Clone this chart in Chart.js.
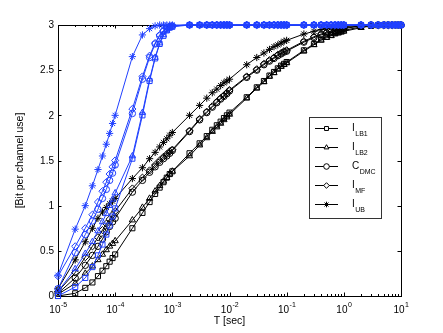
<!DOCTYPE html>
<html>
<head>
<meta charset="utf-8">
<script src="https://cdn.jsdelivr.net/npm/chart.js@4.4.0/dist/chart.umd.min.js"></script>
<style>
  html, body { margin: 0; padding: 0; background: #fff; }
  #wrap { width: 443px; height: 333px; }
</style>
</head>
<body>
<div id="wrap"><canvas id="chart" width="443" height="333"></canvas></div>
<script>
// T [sec] sample points (1..9 per decade)
const tSec = [
  1e-5, 2e-5, 3e-5, 4e-5, 5e-5, 6e-5, 7e-5, 8e-5, 9e-5,
  1e-4, 2e-4, 3e-4, 4e-4, 5e-4, 6e-4, 7e-4, 8e-4, 9e-4,
  1e-3, 2e-3, 3e-3, 4e-3, 5e-3, 6e-3, 7e-3, 8e-3, 9e-3,
  1e-2, 2e-2, 3e-2, 4e-2, 5e-2, 6e-2, 7e-2, 8e-2, 9e-2,
  0.1, 0.2, 0.3, 0.4, 0.5, 0.6, 0.7, 0.8, 0.9,
  1, 2, 3, 4, 5, 6, 7, 8, 9,
  10
];

// curvas azuis (grupo rapido)
const blueLB1 = [
  0.00, 0.10, 0.20, 0.32, 0.45, 0.57, 0.68, 0.78, 0.88,
  0.97, 1.52, 2.00, 2.38, 2.63, 2.79, 2.88, 2.94, 2.97,
  2.98, 3, 3, 3, 3, 3, 3, 3, 3,
  3, 3, 3, 3, 3, 3, 3, 3, 3,
  3, 3, 3, 3, 3, 3, 3, 3, 3,
  3, 3, 3, 3, 3, 3, 3, 3, 3,
  3
];
const blueLB2 = [
  0.05, 0.30, 0.47, 0.60, 0.72, 0.82, 0.91, 1.00, 1.07,
  1.14, 1.55, 2.03, 2.40, 2.64, 2.80, 2.89, 2.94, 2.97,
  2.99, 3, 3, 3, 3, 3, 3, 3, 3,
  3, 3, 3, 3, 3, 3, 3, 3, 3,
  3, 3, 3, 3, 3, 3, 3, 3, 3,
  3, 3, 3, 3, 3, 3, 3, 3, 3,
  3
];
const blueDMC = [
  0.08, 0.48, 0.68, 0.83, 0.96, 1.08, 1.18, 1.28, 1.36,
  1.45, 2.02, 2.40, 2.64, 2.79, 2.88, 2.93, 2.96, 2.98,
  2.99, 3, 3, 3, 3, 3, 3, 3, 3,
  3, 3, 3, 3, 3, 3, 3, 3, 3,
  3, 3, 3, 3, 3, 3, 3, 3, 3,
  3, 3, 3, 3, 3, 3, 3, 3, 3,
  3
];
const blueMF = [
  0.22, 0.55, 0.75, 0.90, 1.04, 1.16, 1.26, 1.35, 1.43,
  1.50, 2.07, 2.43, 2.66, 2.80, 2.89, 2.94, 2.97, 2.98,
  2.99, 3, 3, 3, 3, 3, 3, 3, 3,
  3, 3, 3, 3, 3, 3, 3, 3, 3,
  3, 3, 3, 3, 3, 3, 3, 3, 3,
  3, 3, 3, 3, 3, 3, 3, 3, 3,
  3
];
const blueUB = [
  0.23, 0.74, 1.00, 1.22, 1.40, 1.55, 1.68, 1.80, 1.91,
  2.00, 2.65, 2.89, 2.96, 2.99, 3, 3, 3, 3,
  3, 3, 3, 3, 3, 3, 3, 3, 3,
  3, 3, 3, 3, 3, 3, 3, 3, 3,
  3, 3, 3, 3, 3, 3, 3, 3, 3,
  3, 3, 3, 3, 3, 3, 3, 3, 3,
  3
];

// curvas pretas (grupo lento)
const blackLB1 = [
  0.00, 0.03, 0.09, 0.15, 0.22, 0.28, 0.33, 0.38, 0.42,
  0.46, 0.75, 0.92, 1.04, 1.13, 1.20, 1.26, 1.31, 1.35,
  1.38, 1.58, 1.69, 1.77, 1.84, 1.89, 1.93, 1.97, 2.00,
  2.03, 2.20, 2.31, 2.38, 2.44, 2.48, 2.52, 2.55, 2.57,
  2.59, 2.72, 2.79, 2.84, 2.87, 2.89, 2.91, 2.92, 2.93,
  2.94, 2.98, 2.99, 3, 3, 3, 3, 3, 3,
  3
];
const blackLB2 = [
  0.02, 0.14, 0.25, 0.33, 0.40, 0.46, 0.51, 0.55, 0.58,
  0.61, 0.84, 0.98, 1.08, 1.16, 1.22, 1.27, 1.31, 1.35,
  1.38, 1.55, 1.67, 1.75, 1.82, 1.87, 1.91, 1.95, 1.98,
  2.01, 2.19, 2.30, 2.37, 2.43, 2.47, 2.51, 2.54, 2.56,
  2.58, 2.71, 2.78, 2.83, 2.86, 2.88, 2.90, 2.91, 2.92,
  2.93, 2.97, 2.99, 2.99, 3, 3, 3, 3, 3,
  3
];
const blackDMC = [
  0.03, 0.20, 0.34, 0.45, 0.55, 0.63, 0.71, 0.77, 0.82,
  0.86, 1.15, 1.28, 1.37, 1.43, 1.48, 1.52, 1.55, 1.58,
  1.61, 1.82, 1.95, 2.03, 2.09, 2.14, 2.18, 2.21, 2.24,
  2.27, 2.42, 2.50, 2.56, 2.60, 2.63, 2.66, 2.68, 2.70,
  2.71, 2.81, 2.86, 2.89, 2.91, 2.92, 2.93, 2.94, 2.95,
  2.96, 2.99, 3, 3, 3, 3, 3, 3, 3,
  3
];
const blackMF = [
  0.05, 0.26, 0.43, 0.55, 0.65, 0.73, 0.80, 0.85, 0.90,
  0.94, 1.19, 1.31, 1.39, 1.45, 1.50, 1.54, 1.57, 1.60,
  1.62, 1.83, 1.96, 2.04, 2.10, 2.15, 2.19, 2.22, 2.25,
  2.28, 2.43, 2.51, 2.57, 2.61, 2.64, 2.67, 2.69, 2.71,
  2.72, 2.82, 2.87, 2.90, 2.92, 2.93, 2.94, 2.95, 2.96,
  2.97, 2.99, 3, 3, 3, 3, 3, 3, 3,
  3
];
const blackUB = [
  0.08, 0.40, 0.60, 0.75, 0.86, 0.93, 0.98, 1.02, 1.05,
  1.08, 1.30, 1.42, 1.52, 1.59, 1.65, 1.70, 1.74, 1.78,
  1.81, 2.00, 2.11, 2.19, 2.25, 2.29, 2.33, 2.36, 2.38,
  2.40, 2.56, 2.64, 2.69, 2.73, 2.76, 2.78, 2.80, 2.82,
  2.83, 2.90, 2.93, 2.95, 2.96, 2.97, 2.97, 2.98, 2.98,
  2.98, 3, 3, 3, 3, 3, 3, 3, 3,
  3
];

const yTicks = [0, 0.5, 1, 1.5, 2, 2.5, 3];
const yTickLabels = ['0', '0.5', '1', '1.5', '2', '2.5', '3'];
const xExponents = [-5, -4, -3, -2, -1, 0, 1];
const legendNames = [['I', 'LB1'], ['I', 'LB2'], ['C', 'DMC'], ['I', 'MF'], ['I', 'UB']];
const markers = ['rect', 'triangle', 'circle', 'rectRot', 'star'];

const BLUE = '#2040ff';
const FONT = '"Liberation Sans", Arial, sans-serif';

const toPts = arr => tSec.map((t, i) => ({ x: t, y: arr[i] }));

function makeSet(label, arr, color, style) {
  return {
    label,
    data: toPts(arr),
    borderColor: color,
    borderWidth: 1,
    backgroundColor: 'rgba(0,0,0,0)',
    pointStyle: style,
    pointRadius: style === 'circle' ? 3.2 : 3.6,
    pointBorderColor: color,
    pointBackgroundColor: 'rgba(0,0,0,0)',
    pointBorderWidth: 1,
    fill: false,
    tension: 0,
    clip: false
  };
}

const blueSets = [blueLB1, blueLB2, blueDMC, blueMF, blueUB];
const blackSets = [blackLB1, blackLB2, blackDMC, blackMF, blackUB];
const datasets = [];
blueSets.forEach((arr, i) => datasets.push(makeSet('blue ' + legendNames[i].join(''), arr, BLUE, markers[i])));
blackSets.forEach((arr, i) => datasets.push(makeSet(legendNames[i].join(''), arr, '#000', markers[i])));

// Moldura, ticks, rotulos e legenda no estilo Matlab
const frame = {
  id: 'frame',
  beforeDatasetsDraw(chart) {
    const { ctx, chartArea: a, scales } = chart;
    const xs = scales.x, ys = scales.y;
    ctx.save();
    ctx.strokeStyle = '#000';
    ctx.lineWidth = 1;
    ctx.beginPath();
    // x ticks (inward, bottom and top)
    xExponents.forEach(k => {
      const px = Math.round(xs.getPixelForValue(Math.pow(10, k))) + 0.5;
      ctx.moveTo(px, a.bottom); ctx.lineTo(px, a.bottom - 3.5);
      ctx.moveTo(px, a.top); ctx.lineTo(px, a.top + 3.5);
      if (k < 1) {
        for (let m = 2; m <= 9; m++) {
          const mx = Math.round(xs.getPixelForValue(m * Math.pow(10, k))) + 0.5;
          ctx.moveTo(mx, a.bottom); ctx.lineTo(mx, a.bottom - 2);
          ctx.moveTo(mx, a.top); ctx.lineTo(mx, a.top + 2);
        }
      }
    });
    // y ticks
    yTicks.forEach(v => {
      const py = Math.round(ys.getPixelForValue(v)) + 0.5;
      ctx.moveTo(a.left, py); ctx.lineTo(a.left + 3.5, py);
      ctx.moveTo(a.right, py); ctx.lineTo(a.right - 3.5, py);
    });
    ctx.stroke();
    ctx.strokeRect(Math.round(a.left) + 0.5, Math.round(a.top) + 0.5,
      Math.round(a.right - a.left), Math.round(a.bottom - a.top));

    // y tick labels
    ctx.fillStyle = '#000';
    ctx.font = '10px ' + FONT;
    ctx.textAlign = 'right';
    ctx.textBaseline = 'middle';
    yTicks.forEach((v, i) => {
      ctx.fillText(yTickLabels[i], a.left - 4, ys.getPixelForValue(v) + 0.5);
    });

    // x tick labels: 10^k
    ctx.textBaseline = 'alphabetic';
    ctx.textAlign = 'left';
    xExponents.forEach(k => {
      const px = xs.getPixelForValue(Math.pow(10, k));
      ctx.font = '10px ' + FONT;
      const wBase = ctx.measureText('10').width;
      ctx.font = '7px ' + FONT;
      const sup = (k < 0 ? '-' : '') + Math.abs(k);
      const wSup = ctx.measureText(sup).width;
      const x0 = px - (wBase + wSup) / 2;
      ctx.font = '10px ' + FONT;
      ctx.fillText('10', x0, 313);
      ctx.font = '7px ' + FONT;
      ctx.fillText(sup, x0 + wBase + 0.5, 307);
    });

    // axis titles
    ctx.font = '10.5px ' + FONT;
    ctx.textAlign = 'center';
    ctx.textBaseline = 'middle';
    ctx.fillText('T [sec]', (a.left + a.right) / 2, 321);
    ctx.save();
    ctx.translate(20, (a.top + a.bottom) / 2);
    ctx.rotate(-Math.PI / 2);
    ctx.fillText('[Bit per channel use]', 0, 0);
    ctx.restore();
    ctx.restore();
  },
  afterDraw(chart) {
    const { ctx } = chart;
    ctx.save();
    const bx = 309.5, by = 117.5, bw = 72, bh = 101;
    ctx.fillStyle = '#fff';
    ctx.fillRect(bx, by, bw, bh);
    ctx.strokeStyle = '#333';
    ctx.lineWidth = 1;
    ctx.strokeRect(bx, by, bw, bh);
    const rows = [128.5, 147.5, 166.5, 185.5, 204.5];
    legendNames.forEach((nm, i) => {
      const y = rows[i];
      ctx.strokeStyle = '#000';
      ctx.lineWidth = 1;
      ctx.beginPath();
      ctx.moveTo(315, y); ctx.lineTo(338, y);
      ctx.stroke();
      ctx.fillStyle = '#fff';
      Chart.helpers.drawPoint(ctx, {
        pointStyle: markers[i], radius: 2.8, borderWidth: 1, rotation: 0
      }, 326.5, y);
      ctx.fillStyle = '#000';
      ctx.textAlign = 'left';
      ctx.textBaseline = 'alphabetic';
      ctx.font = '10px ' + FONT;
      ctx.fillText(nm[0], 352, y + 2.5);
      const w = ctx.measureText(nm[0]).width;
      ctx.font = '7px ' + FONT;
      ctx.fillText(nm[1], 352 + w + 0.5, y + 7);
    });
    ctx.restore();
  }
};

new Chart(document.getElementById('chart').getContext('2d'), {
  type: 'line',
  data: { datasets },
  options: {
    responsive: false,
    animation: false,
    devicePixelRatio: 1,
    parsing: true,
    layout: { padding: { left: 58, right: 42, top: 25, bottom: 37 } },
    scales: {
      x: { type: 'logarithmic', min: 1e-5, max: 10, display: false },
      y: { type: 'linear', min: 0, max: 3, display: false }
    },
    plugins: {
      legend: { display: false },
      tooltip: { enabled: false }
    },
    elements: { line: { borderWidth: 1 } }
  },
  plugins: [frame]
});
</script>
</body>
</html>
